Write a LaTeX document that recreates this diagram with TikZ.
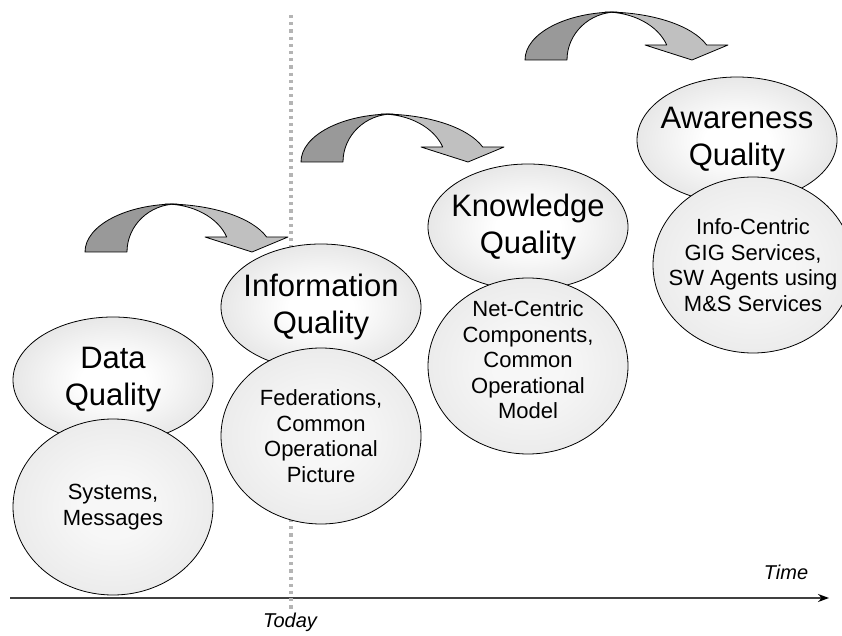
\documentclass[tikz,border=0pt]{standalone}
\usepackage{fontspec}
\setmainfont{Liberation Sans}
\usetikzlibrary{arrows.meta,shapes.geometric}
\usepackage{xcolor}
\definecolor{qualityedge}{HTML}{9C9C9C}
\definecolor{layeredge}{HTML}{C2C2C2}
\definecolor{arrowback}{HTML}{999999}
\definecolor{arrowfront}{HTML}{C0C0C0}
\definecolor{todaygrey}{HTML}{B4B4B4}
\definecolor{axisgrey}{HTML}{404040}
\pgfdeclareradialshading{qualityshade}{\pgfpoint{0bp}{0bp}}{color(0bp)=(white); color(8bp)=(white); color(28bp)=(white!72!qualityedge); color(50bp)=(qualityedge); color(72bp)=(qualityedge)}
\pgfdeclareradialshading{layershade}{\pgfpoint{0bp}{0bp}}{color(0bp)=(white!97!black); color(8bp)=(white!97!black); color(28bp)=(white!65!layeredge); color(50bp)=(layeredge); color(72bp)=(layeredge)}
% bent block arrow, origin at the outer foot
\newcommand{\bentarrow}[2]{%
  \begin{scope}[shift={(#1,#2)}]
    \filldraw[arrowpiece,fill=arrowback] (0,0) arc[start angle=180,end angle=90,x radius=92,y radius=48]
      arc[start angle=90,end angle=180,x radius=50,y radius=48] -- cycle;
    \filldraw[arrowpiece,fill=arrowfront] (80,48) arc[start angle=90,end angle=18.21,x radius=107,y radius=48]
      -- (203,15) -- (167,0) -- (120,15) -- (141.7,15)
      arc[start angle=18.21,end angle=90,x radius=65,y radius=48] -- cycle;
  \end{scope}}

\begin{document}
\begin{tikzpicture}[x=1pt,y=1pt,
  arrowpiece/.style={draw=black,line width=0.8pt,line join=round},
  qualityball/.style={ellipse,draw=black,line width=0.8pt,shading=qualityshade,minimum width=200pt,minimum height=126pt,inner sep=0pt},
  layerball/.style={ellipse,draw=black,line width=0.8pt,shading=layershade,minimum width=200pt,minimum height=176pt,inner sep=0pt},
  qualitytext/.style={align=center,inner sep=0pt,font=\fontsize{31}{37}\selectfont},
  layertext/.style={align=center,inner sep=0pt,font=\fontsize{22}{25.5}\selectfont},
  timelabel/.style={inner sep=0pt,font=\fontsize{20}{24}\selectfont\itshape}]
  \useasboundingbox (0,0) rectangle (842,635);
  % Time axis
  \coordinate (axisstart) at (10,37);
  \coordinate (axisend) at (829,37);
  \draw[axisgrey,line width=1.3pt,-{Stealth[length=11pt,width=8pt,black]}] (axisstart) -- (axisend);
  \node[timelabel] (timeL) at (786,63) {Time};
  % Today line
  \coordinate (todaytop) at (291,620);
  \coordinate (todaybot) at (291,23);
  \draw[todaygrey,line width=3.2pt,dash pattern=on 3.2pt off 4pt] (todaytop) -- (todaybot);
  \node[timelabel] (todayL) at (290,13) {Today};
  % Arrows
  \bentarrow{85}{383}
  \bentarrow{301}{473}
  \bentarrow{525}{575}
  % Data
  \node[qualityball] (dataQ) at (113,255) {};
  \node[qualitytext] (dataQt) at (dataQ) {Data\\Quality};
  \node[layerball] (dataL) at (113,128) {};
  \node[layertext] (dataLt) at (dataL) {Systems,\\Messages};
  % Information
  \node[qualityball] (infoQ) at (321,328) {};
  \node[qualitytext] (infoQt) at (infoQ) {Information\\Quality};
  \node[layerball] (infoL) at (321,199) {};
  \node[layertext] (infoLt) at (infoL) {Federations,\\Common\\Operational\\Picture};
  % Knowledge
  \node[qualityball] (knowQ) at (528,408) {};
  \node[qualitytext] (knowQt) at (knowQ) {Knowledge\\Quality};
  \node[layerball] (knowL) at (528,269) {};
  \node[layertext] (knowLt) at ([yshift=6pt]knowL.center) {Net-Centric\\Components,\\Common\\Operational\\Model};
  % Awareness
  \node[qualityball] (awareQ) at (737,495) {};
  \node[qualitytext] (awareQt) at (awareQ) {Awareness\\Quality};
  \node[layerball] (awareL) at (753,370) {};
  \node[layertext] (awareLt) at (awareL) {Info-Centric\\GIG Services,\\SW Agents using\\M\&S Services};
\end{tikzpicture}
\end{document}
